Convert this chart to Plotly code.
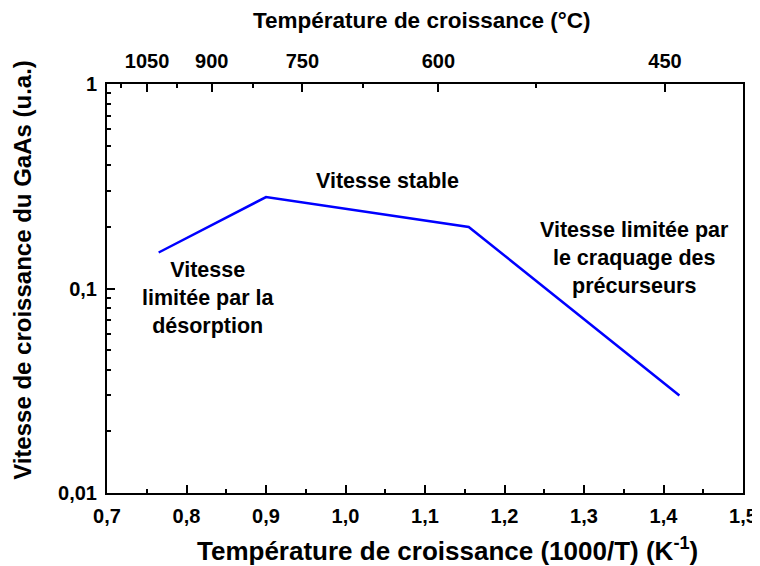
import math
import plotly.graph_objects as go

# growth rate vs 1000/T
inv_t = [0.765, 0.90, 1.155, 1.42]
rate = [0.15, 0.28, 0.20, 0.03]

x_ticks = [0.7, 0.8, 0.9, 1.0, 1.1, 1.2, 1.3, 1.4, 1.5]
x_labels = ["0,7", "0,8", "0,9", "1,0", "1,1", "1,2", "1,3", "1,4", "1,5"]
y_ticks = [0.01, 0.1, 1]
y_labels = ["0,01", "0,1", "1"]

# top axis: growth temperature in °C
top_temps = [1050, 900, 750, 600, 450]
top_minor_temps = [1125, 975, 825, 675, 525]

FONT = "Liberation Sans, Arial, sans-serif"

fig = go.Figure()
fig.add_trace(go.Scatter(
    x=inv_t, y=rate, mode="lines",
    line=dict(color="#0000ff", width=2.5), showlegend=False
))
# invisible trace to activate the top axis
fig.add_trace(go.Scatter(
    x=[1000 / t for t in top_temps], y=[0.5] * len(top_temps), xaxis="x2",
    mode="markers", marker=dict(opacity=0), showlegend=False, hoverinfo="skip"
))

axis_font = dict(family=FONT, size=20, color="black", weight="bold")

# page has an 8px body margin, so the figure is a bit smaller than the window
fig.update_layout(
    width=752, height=558,
    margin=dict(l=99, r=17, t=76, b=73),
    plot_bgcolor="white", paper_bgcolor="white",
    font=dict(family=FONT, color="black"),
    xaxis=dict(
        range=[0.7, 1.5], tickvals=x_ticks, ticktext=x_labels,
        ticks="inside", ticklen=8, tickwidth=2, tickcolor="black",
        showline=True, linewidth=2, linecolor="black", showgrid=False, zeroline=False,
        tickfont=axis_font, automargin=False, ticklabelstandoff=4,
        minor=dict(tickvals=[0.75, 0.85, 0.95, 1.05, 1.15, 1.25, 1.35, 1.45],
                   ticks="inside", ticklen=4, tickwidth=1.5, tickcolor="black"),
    ),
    xaxis2=dict(
        overlaying="x", side="top", range=[0.8543, 2.4134],
        tickvals=[1000 / t for t in top_temps], ticktext=[str(t) for t in top_temps],
        ticks="inside", ticklen=8, tickwidth=2, tickcolor="black",
        showline=True, linewidth=2, linecolor="black", showgrid=False, zeroline=False,
        tickfont=axis_font, automargin=False, ticklabelstandoff=6,
        minor=dict(tickvals=[1000 / t for t in top_minor_temps],
                   ticks="inside", ticklen=4, tickwidth=1.5, tickcolor="black"),
    ),
    yaxis=dict(
        type="log", range=[-2, 0], tickvals=y_ticks, ticktext=y_labels,
        ticks="inside", ticklen=8, tickwidth=2, tickcolor="black",
        showline=True, linewidth=2, linecolor="black", mirror=True,
        showgrid=False, zeroline=False, tickfont=axis_font, automargin=False,
        ticklabelstandoff=4,
        minor=dict(tickvals=[k * 0.01 for k in range(2, 10)] + [k * 0.1 for k in range(2, 10)],
                   ticks="inside", ticklen=4, tickwidth=1.5, tickcolor="black"),
    ),
)

# axis titles as annotations (they are off-centre in the original)
titles = [
    (0.495, 1.156, 0, 22.5, "Température de croissance (°C)"),
    (0.536, -0.137, 0, 26, "Température de croissance (1000/T) (K<sup>-1</sup>)"),
    (-0.134, 0.545, -90, 24, "Vitesse de croissance du GaAs (u.a.)"),
]
for tx, ty, ang, size, txt in titles:
    fig.add_annotation(x=tx, y=ty, xref="paper", yref="paper", text=txt, textangle=ang,
                       xanchor="center", yanchor="middle", showarrow=False,
                       font=dict(family=FONT, size=size, color="black", weight="bold"))

ann_font = dict(family=FONT, size=21.5, color="black", weight="bold")
# (x, y in data units, text)
notes = [
    (1.053, 0.336, "Vitesse stable"),
    (0.827, 0.090, "Vitesse<br>limitée par la<br>désorption"),
    (1.363, 0.141, "Vitesse limitée par<br>le craquage des<br>précurseurs"),
]
for nx, ny, txt in notes:
    fig.add_annotation(x=nx, y=math.log10(ny), text=txt, showarrow=False,
                       font=ann_font, align="center")

fig.write_html("out.html")
